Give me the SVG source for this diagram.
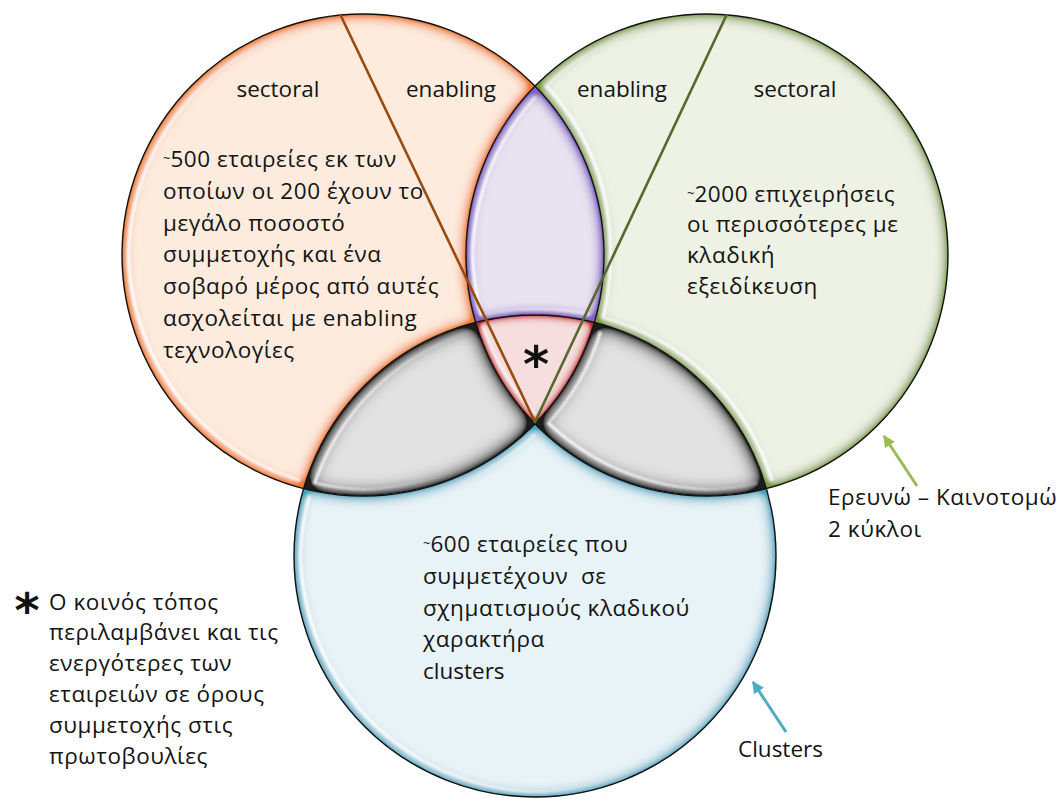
<svg xmlns="http://www.w3.org/2000/svg" width="1064" height="804" viewBox="0 0 1064 804">
<style>
  .t { font-family: "Open Sans", "Noto Sans", "Liberation Sans", sans-serif; font-size: 22.5px; fill: #141414; white-space: pre; }
  .g { letter-spacing: 0.55px; }
  .mid { text-anchor: middle; }
  .tl { font-size: 13px; letter-spacing: 0; }
  .ast { font-family: "DejaVu Sans", "Liberation Sans", sans-serif; font-weight: bold; fill: #111; text-anchor: middle; }
  .outline { fill: none; stroke: #111; stroke-width: 1.4; }
</style>
<defs>
  <filter id="fo" x="-10%" y="-10%" width="120%" height="120%">
    <feGaussianBlur in="SourceAlpha" stdDeviation="7" result="b"/>
    <feComposite in="SourceAlpha" in2="b" operator="out" result="e0"/>
    <feComponentTransfer in="e0" result="e"><feFuncA type="linear" slope="2.2"/></feComponentTransfer>
    <feFlood flood-color="#EE7E2E"/>
    <feComposite in2="e" operator="in" result="glow"/>
    <feMorphology in="SourceAlpha" operator="erode" radius="5" result="m1"/>
    <feOffset in="m1" dx="2.5" dy="-1.5" result="m2"/>
    <feComposite in="m1" in2="m2" operator="out" result="r0"/>
    <feGaussianBlur in="r0" stdDeviation="0.9" result="r"/>
    <feFlood flood-color="#ffffff" flood-opacity="0.95"/>
    <feComposite in2="r" operator="in" result="hl"/>
    <feMerge><feMergeNode in="SourceGraphic"/><feMergeNode in="glow"/><feMergeNode in="hl"/></feMerge>
  </filter>
  <filter id="fg" x="-10%" y="-10%" width="120%" height="120%">
    <feGaussianBlur in="SourceAlpha" stdDeviation="7" result="b"/>
    <feComposite in="SourceAlpha" in2="b" operator="out" result="e0"/>
    <feComponentTransfer in="e0" result="e"><feFuncA type="linear" slope="2.0"/></feComponentTransfer>
    <feFlood flood-color="#7D9C3E"/>
    <feComposite in2="e" operator="in" result="glow"/>
    <feMorphology in="SourceAlpha" operator="erode" radius="5" result="m1"/>
    <feOffset in="m1" dx="2.5" dy="-1.5" result="m2"/>
    <feComposite in="m1" in2="m2" operator="out" result="r0"/>
    <feGaussianBlur in="r0" stdDeviation="0.9" result="r"/>
    <feFlood flood-color="#ffffff" flood-opacity="0.95"/>
    <feComposite in2="r" operator="in" result="hl"/>
    <feMerge><feMergeNode in="SourceGraphic"/><feMergeNode in="glow"/><feMergeNode in="hl"/></feMerge>
  </filter>
  <filter id="fb" x="-10%" y="-10%" width="120%" height="120%">
    <feGaussianBlur in="SourceAlpha" stdDeviation="7" result="b"/>
    <feComposite in="SourceAlpha" in2="b" operator="out" result="e0"/>
    <feComponentTransfer in="e0" result="e"><feFuncA type="linear" slope="2.0"/></feComponentTransfer>
    <feFlood flood-color="#45A5C0"/>
    <feComposite in2="e" operator="in" result="glow"/>
    <feMorphology in="SourceAlpha" operator="erode" radius="5" result="m1"/>
    <feOffset in="m1" dx="2.5" dy="-1.5" result="m2"/>
    <feComposite in="m1" in2="m2" operator="out" result="r0"/>
    <feGaussianBlur in="r0" stdDeviation="0.9" result="r"/>
    <feFlood flood-color="#ffffff" flood-opacity="0.95"/>
    <feComposite in2="r" operator="in" result="hl"/>
    <feMerge><feMergeNode in="SourceGraphic"/><feMergeNode in="glow"/><feMergeNode in="hl"/></feMerge>
  </filter>
  <filter id="fp" x="-10%" y="-10%" width="120%" height="120%">
    <feGaussianBlur in="SourceAlpha" stdDeviation="7" result="b"/>
    <feComposite in="SourceAlpha" in2="b" operator="out" result="e0"/>
    <feComponentTransfer in="e0" result="e"><feFuncA type="linear" slope="2.2"/></feComponentTransfer>
    <feFlood flood-color="#8464C4"/>
    <feComposite in2="e" operator="in" result="glow"/>
    <feMorphology in="SourceAlpha" operator="erode" radius="5" result="m1"/>
    <feOffset in="m1" dx="2.5" dy="-1.5" result="m2"/>
    <feComposite in="m1" in2="m2" operator="out" result="r0"/>
    <feGaussianBlur in="r0" stdDeviation="0.9" result="r"/>
    <feFlood flood-color="#ffffff" flood-opacity="0.95"/>
    <feComposite in2="r" operator="in" result="hl"/>
    <feMerge><feMergeNode in="SourceGraphic"/><feMergeNode in="glow"/><feMergeNode in="hl"/></feMerge>
  </filter>
  <filter id="fr" x="-10%" y="-10%" width="120%" height="120%">
    <feGaussianBlur in="SourceAlpha" stdDeviation="5" result="b"/>
    <feComposite in="SourceAlpha" in2="b" operator="out" result="e0"/>
    <feComponentTransfer in="e0" result="e"><feFuncA type="linear" slope="2.2"/></feComponentTransfer>
    <feFlood flood-color="#CC2E33"/>
    <feComposite in2="e" operator="in" result="glow"/>
    <feMorphology in="SourceAlpha" operator="erode" radius="4" result="m1"/>
    <feOffset in="m1" dx="2" dy="-1.5" result="m2"/>
    <feComposite in="m1" in2="m2" operator="out" result="r0"/>
    <feGaussianBlur in="r0" stdDeviation="0.8" result="r"/>
    <feFlood flood-color="#ffffff" flood-opacity="0.85"/>
    <feComposite in2="r" operator="in" result="hl"/>
    <feMerge><feMergeNode in="SourceGraphic"/><feMergeNode in="glow"/><feMergeNode in="hl"/></feMerge>
  </filter>
  <filter id="fk" x="-10%" y="-10%" width="120%" height="120%">
    <feGaussianBlur in="SourceAlpha" stdDeviation="10" result="b"/>
    <feComposite in="SourceAlpha" in2="b" operator="out" result="e0"/>
    <feComponentTransfer in="e0" result="e"><feFuncA type="linear" slope="2.1"/></feComponentTransfer>
    <feFlood flood-color="#1c1c1c"/>
    <feComposite in2="e" operator="in" result="glow"/>
    <feMorphology in="SourceAlpha" operator="erode" radius="6" result="m1"/>
    <feOffset in="m1" dx="2.5" dy="-1.5" result="m2"/>
    <feComposite in="m1" in2="m2" operator="out" result="r0"/>
    <feGaussianBlur in="r0" stdDeviation="0.9" result="r"/>
    <feFlood flood-color="#ffffff" flood-opacity="0.95"/>
    <feComposite in2="r" operator="in" result="hl"/>
    <feMerge><feMergeNode in="SourceGraphic"/><feMergeNode in="glow"/><feMergeNode in="hl"/></feMerge>
  </filter>
  <marker id="ahg" viewBox="0 0 10 10" refX="9" refY="5" markerWidth="4" markerHeight="4" orient="auto" markerUnits="strokeWidth">
    <path d="M0,0 L10,5 L0,10 Z" fill="#9BBB59"/>
  </marker>
  <marker id="ahb" viewBox="0 0 10 10" refX="9" refY="5" markerWidth="4" markerHeight="4" orient="auto" markerUnits="strokeWidth">
    <path d="M0,0 L10,5 L0,10 Z" fill="#4BACC6"/>
  </marker>
</defs>
<rect width="1064" height="804" fill="#ffffff"/>

<g id="orange">
  <path d="M535,86.2 A241,241 0 1 0 303.7,488.6 A241,241 0 0 1 475.7,322.4 A241,241 0 0 1 535,86.2 Z" fill="#FDEBDD" filter="url(#fo)"/>
  <text class="t mid" x="278" y="97">sectoral</text>
  <text class="t mid" x="451" y="97">enabling</text>
  <text class="t g" x="163" y="167"><tspan class="tl" dy="-4">~</tspan><tspan dy="4">500 εταιρείες εκ των</tspan></text>
  <text class="t g" x="163" y="198.8">οποίων οι 200 έχουν το</text>
  <text class="t g" x="163" y="230.6">μεγάλο ποσοστό</text>
  <text class="t g" x="163" y="262.4">συμμετοχής και ένα</text>
  <text class="t g" x="163" y="294.2">σοβαρό μέρος από αυτές</text>
  <text class="t g" x="163" y="326">ασχολείται με enabling</text>
  <text class="t g" x="163" y="357.8">τεχνολογίες</text>
</g>

<g id="green">
  <path d="M535,86.2 A241,241 0 1 1 766.3,488.6 A241,241 0 0 0 594.3,322.4 A241,241 0 0 0 535,86.2 Z" fill="#EEF2E5" filter="url(#fg)"/>
  <text class="t mid" x="622" y="97">enabling</text>
  <text class="t mid" x="795" y="97">sectoral</text>
  <text class="t g" x="687" y="201.5"><tspan class="tl" dy="-4">~</tspan><tspan dy="4">2000 επιχειρήσεις</tspan></text>
  <text class="t g" x="687" y="232">οι περισσότερες με</text>
  <text class="t g" x="687" y="263">κλαδική</text>
  <text class="t g" x="687" y="293.5">εξειδίκευση</text>
</g>

<g id="blue">
  <path d="M303.7,488.6 A241,241 0 1 0 766.3,488.6 A241,241 0 0 1 535,423.8 A241,241 0 0 1 303.7,488.6 Z" fill="#E7F3F7" filter="url(#fb)"/>
  <text class="t g" x="423" y="552"><tspan class="tl" dy="-4">~</tspan><tspan dy="4">600 εταιρείες που</tspan></text>
  <text class="t g" x="423" y="584">συμμετέχουν  σε</text>
  <text class="t g" x="423" y="615.5">σχηματισμούς κλαδικού</text>
  <text class="t g" x="423" y="647">χαρακτήρα</text>
  <text class="t" x="423" y="679">clusters</text>
</g>

<g id="orange-green">
  <path d="M535,86.2 A241,241 0 0 0 475.7,322.4 A241,241 0 0 1 594.3,322.4 A241,241 0 0 0 535,86.2 Z" fill="#E9E3F1" filter="url(#fp)"/>
</g>

<g id="orange-blue">
  <path d="M303.7,488.6 A241,241 0 0 0 535,423.8 A241,241 0 0 1 475.7,322.4 A241,241 0 0 0 303.7,488.6 Z" fill="#E2E2E2" filter="url(#fk)"/>
</g>

<g id="green-blue">
  <path d="M766.3,488.6 A241,241 0 0 1 535,423.8 A241,241 0 0 0 594.3,322.4 A241,241 0 0 1 766.3,488.6 Z" fill="#E2E2E2" filter="url(#fk)"/>
</g>

<g id="all-three">
  <path d="M475.7,322.4 A241,241 0 0 1 594.3,322.4 A241,241 0 0 1 535,423.8 A241,241 0 0 1 475.7,322.4 Z" fill="#F6DEDE" filter="url(#fr)"/>
</g>

<g id="outlines">
  <circle class="outline" cx="363" cy="255" r="241"/>
  <circle class="outline" cx="707" cy="255" r="241"/>
  <circle class="outline" cx="535" cy="556" r="241"/>
</g>

<g id="dividers">
  <line x1="340" y1="14" x2="535.5" y2="423" stroke="#9A4A0C" stroke-width="2.6"/>
  <line x1="727" y1="14" x2="534.5" y2="423" stroke="#56692C" stroke-width="2.6"/>
</g>

<text class="ast" x="536" y="382" font-size="50">*</text>

<g id="connectors">
  <line x1="917" y1="486" x2="884" y2="436" stroke="#9BBB59" stroke-width="3" marker-end="url(#ahg)"/>
  <line x1="786" y1="732" x2="753" y2="682" stroke="#4BACC6" stroke-width="3" marker-end="url(#ahb)"/>
</g>

<g id="label-research">
  <text class="t g" x="828" y="505">Ερευνώ – Καινοτομώ</text>
  <text class="t g" x="828" y="537">2 κύκλοι</text>
</g>

<g id="label-clusters">
  <text class="t" x="738" y="757">Clusters</text>
</g>

<g id="legend">
  <text class="ast" x="27" y="627" font-size="48">*</text>
  <text class="t g" x="49" y="609.5">Ο κοινός τόπος</text>
  <text class="t g" x="49" y="640.3">περιλαμβάνει και τις</text>
  <text class="t g" x="49" y="671.1">ενεργότερες των</text>
  <text class="t g" x="49" y="701.9">εταιρειών σε όρους</text>
  <text class="t g" x="49" y="732.7">συμμετοχής στις</text>
  <text class="t g" x="49" y="763.5">πρωτοβουλίες</text>
</g>
</svg>
